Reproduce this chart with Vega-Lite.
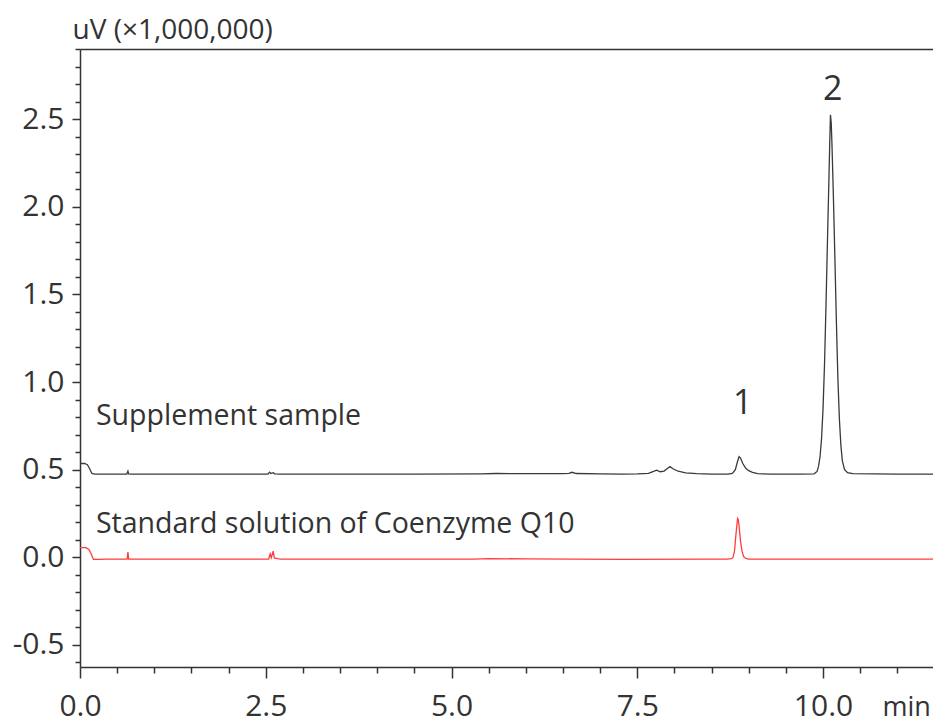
{
  "$schema": "https://vega.github.io/schema/vega-lite/v6.json",
  "width": 853,
  "height": 618,
  "autosize": {"type": "none"},
  "padding": {"left": 80, "top": 49, "right": 0, "bottom": 53},
  "background": "white",
  "config": {
    "view": {"stroke": null},
    "font": "Open Sans",
    "axis": {"domainColor": "#333333", "tickColor": "#333333", "labelColor": "#333333", "titleColor": "#333333", "labelFont": "Open Sans", "titleFont": "Open Sans", "titleFontWeight": "normal", "grid": false, "domainWidth": 1.5, "tickWidth": 1.5, "labelOverlap": false, "labelFlush": false}
  },
  "datasets": {
    "traces": [
      {"t": 0, "v": 0.535, "s": "A"}, {"t": 0.06, "v": 0.535, "s": "A"}, {"t": 0.1, "v": 0.528, "s": "A"}, {"t": 0.13, "v": 0.505, "s": "A"}, {"t": 0.16, "v": 0.478, "s": "A"}, {"t": 0.2, "v": 0.475, "s": "A"},
      {"t": 0.63, "v": 0.475, "s": "A"}, {"t": 0.645, "v": 0.492, "s": "A"}, {"t": 0.655, "v": 0.476, "s": "A"}, {"t": 0.7, "v": 0.475, "s": "A"}, {"t": 1.5, "v": 0.475, "s": "A"},
      {"t": 2.53, "v": 0.475, "s": "A"}, {"t": 2.55, "v": 0.486, "s": "A"}, {"t": 2.57, "v": 0.478, "s": "A"}, {"t": 2.6, "v": 0.483, "s": "A"}, {"t": 2.62, "v": 0.476, "s": "A"}, {"t": 2.7, "v": 0.475, "s": "A"},
      {"t": 3.5, "v": 0.475, "s": "A"}, {"t": 4.5, "v": 0.475, "s": "A"}, {"t": 5.4, "v": 0.476, "s": "A"}, {"t": 5.6, "v": 0.478, "s": "A"}, {"t": 6.0, "v": 0.477, "s": "A"}, {"t": 6.5, "v": 0.477, "s": "A"},
      {"t": 6.58, "v": 0.479, "s": "A"}, {"t": 6.62, "v": 0.485, "s": "A"}, {"t": 6.68, "v": 0.478, "s": "A"}, {"t": 7.0, "v": 0.476, "s": "A"}, {"t": 7.3, "v": 0.475, "s": "A"},
      {"t": 7.5, "v": 0.476, "s": "A"}, {"t": 7.65, "v": 0.479, "s": "A"}, {"t": 7.72, "v": 0.49, "s": "A"}, {"t": 7.76, "v": 0.497, "s": "A"}, {"t": 7.81, "v": 0.488, "s": "A"}, {"t": 7.86, "v": 0.492, "s": "A"},
      {"t": 7.91, "v": 0.508, "s": "A"}, {"t": 7.94, "v": 0.517, "s": "A"}, {"t": 7.98, "v": 0.505, "s": "A"}, {"t": 8.05, "v": 0.491, "s": "A"}, {"t": 8.15, "v": 0.482, "s": "A"}, {"t": 8.3, "v": 0.477, "s": "A"},
      {"t": 8.5, "v": 0.474, "s": "A"}, {"t": 8.72, "v": 0.474, "s": "A"}, {"t": 8.78, "v": 0.479, "s": "A"}, {"t": 8.82, "v": 0.5, "s": "A"}, {"t": 8.85, "v": 0.548, "s": "A"}, {"t": 8.87, "v": 0.574, "s": "A"},
      {"t": 8.89, "v": 0.566, "s": "A"}, {"t": 8.92, "v": 0.535, "s": "A"}, {"t": 8.96, "v": 0.508, "s": "A"}, {"t": 9.0, "v": 0.494, "s": "A"}, {"t": 9.05, "v": 0.484, "s": "A"}, {"t": 9.12, "v": 0.477, "s": "A"},
      {"t": 9.3, "v": 0.474, "s": "A"}, {"t": 9.7, "v": 0.474, "s": "A"}, {"t": 9.88, "v": 0.476, "s": "A"}, {"t": 9.92, "v": 0.49, "s": "A"}, {"t": 9.94, "v": 0.52, "s": "A"}, {"t": 9.96, "v": 0.575, "s": "A"},
      {"t": 9.98, "v": 0.676, "s": "A"}, {"t": 10.0, "v": 0.848, "s": "A"}, {"t": 10.02, "v": 1.1, "s": "A"}, {"t": 10.04, "v": 1.44, "s": "A"}, {"t": 10.06, "v": 1.81, "s": "A"}, {"t": 10.08, "v": 2.17, "s": "A"},
      {"t": 10.09, "v": 2.36, "s": "A"}, {"t": 10.1, "v": 2.525, "s": "A"}, {"t": 10.11, "v": 2.48, "s": "A"}, {"t": 10.12, "v": 2.36, "s": "A"}, {"t": 10.14, "v": 2.05, "s": "A"}, {"t": 10.16, "v": 1.7, "s": "A"},
      {"t": 10.18, "v": 1.34, "s": "A"}, {"t": 10.2, "v": 1.02, "s": "A"}, {"t": 10.22, "v": 0.79, "s": "A"}, {"t": 10.24, "v": 0.64, "s": "A"}, {"t": 10.26, "v": 0.55, "s": "A"}, {"t": 10.29, "v": 0.5, "s": "A"},
      {"t": 10.33, "v": 0.483, "s": "A"}, {"t": 10.4, "v": 0.477, "s": "A"}, {"t": 11.0, "v": 0.474, "s": "A"}, {"t": 11.5, "v": 0.474, "s": "A"},

      {"t": 0, "v": 0.055, "s": "B"}, {"t": 0.08, "v": 0.055, "s": "B"}, {"t": 0.12, "v": 0.045, "s": "B"}, {"t": 0.15, "v": 0.02, "s": "B"}, {"t": 0.18, "v": -0.012, "s": "B"}, {"t": 0.25, "v": -0.012, "s": "B"},
      {"t": 0.35, "v": -0.01, "s": "B"}, {"t": 0.635, "v": -0.01, "s": "B"}, {"t": 0.645, "v": 0.03, "s": "B"}, {"t": 0.655, "v": -0.01, "s": "B"}, {"t": 1.5, "v": -0.01, "s": "B"},
      {"t": 2.54, "v": -0.01, "s": "B"}, {"t": 2.56, "v": 0.02, "s": "B"}, {"t": 2.575, "v": -0.002, "s": "B"}, {"t": 2.6, "v": 0.035, "s": "B"}, {"t": 2.615, "v": -0.004, "s": "B"}, {"t": 2.66, "v": -0.008, "s": "B"},
      {"t": 2.7, "v": -0.01, "s": "B"}, {"t": 5.3, "v": -0.01, "s": "B"}, {"t": 5.5, "v": -0.008, "s": "B"}, {"t": 6.0, "v": -0.009, "s": "B"}, {"t": 7.3, "v": -0.012, "s": "B"}, {"t": 8.5, "v": -0.011, "s": "B"},
      {"t": 8.7, "v": -0.01, "s": "B"}, {"t": 8.77, "v": -0.008, "s": "B"}, {"t": 8.79, "v": 0.0, "s": "B"}, {"t": 8.81, "v": 0.04, "s": "B"}, {"t": 8.83, "v": 0.14, "s": "B"}, {"t": 8.85, "v": 0.222, "s": "B"},
      {"t": 8.86, "v": 0.215, "s": "B"}, {"t": 8.87, "v": 0.18, "s": "B"}, {"t": 8.89, "v": 0.09, "s": "B"}, {"t": 8.91, "v": 0.035, "s": "B"}, {"t": 8.93, "v": 0.005, "s": "B"}, {"t": 8.96, "v": -0.007, "s": "B"},
      {"t": 9.0, "v": -0.01, "s": "B"}, {"t": 11.5, "v": -0.01, "s": "B"}
    ],
    "notes": [
      {"t": 0.215, "v": 0.806, "label": "Supplement sample"},
      {"t": 0.215, "v": 0.19, "label": "Standard solution of Coenzyme Q10"}
    ],
    "peaks": [
      {"t": 8.92, "v": 0.875, "label": "1"},
      {"t": 10.13, "v": 2.664, "label": "2"}
    ]
  },
  "layer": [
    {
      "data": {"name": "traces"},
      "mark": {"type": "line", "strokeWidth": 1.3, "interpolate": "linear"},
      "encoding": {
        "x": {"field": "t", "type": "quantitative", "scale": {"domain": [0, 11.48], "nice": false, "zero": false},
          "axis": {"orient": "bottom", "title": "min", "titleFontSize": 27, "titleX": 802, "titleY": 48, "titleAlign": "left", "titleBaseline": "alphabetic", "titleAnchor": null,
            "values": [0,0.5,1,1.5,2,2.5,3,3.5,4,4.5,5,5.5,6,6.5,7,7.5,8,8.5,9,9.5,10,10.5,11],
            "labelExpr": "abs(datum.value/2.5 - round(datum.value/2.5)) < 0.001 ? format(datum.value, '.1f') : ''",
            "tickSize": {"condition": {"test": "abs(datum.value/2.5 - round(datum.value/2.5)) < 0.001", "value": 11}, "value": 6},
            "labelFontSize": 30, "labelBaseline": "alphabetic", "labelPadding": 37}},
        "y": {"field": "v", "type": "quantitative", "scale": {"domain": [-0.626, 2.9], "nice": false, "zero": false},
          "axis": {"orient": "left", "title": "uV (×1,000,000)", "titleFontSize": 28, "titleAngle": 0, "titleX": -8, "titleY": -11, "titleAlign": "left", "titleBaseline": "alphabetic", "titleAnchor": null,
            "values": [-0.6,-0.5,-0.4,-0.3,-0.2,-0.1,0,0.1,0.2,0.3,0.4,0.5,0.6,0.7,0.8,0.9,1,1.1,1.2,1.3,1.4,1.5,1.6,1.7,1.8,1.9,2,2.1,2.2,2.3,2.4,2.5,2.6,2.7,2.8,2.9],
            "labelExpr": "abs(datum.value*2 - round(datum.value*2)) < 0.001 ? replace(format(datum.value, '.1f'), '\u2212', '-') : ''",
            "tickSize": {"condition": {"test": "abs(datum.value*2 - round(datum.value*2)) < 0.001", "value": 8}, "value": 5},
            "labelFontSize": 30, "labelPadding": 8}},
        "color": {"field": "s", "type": "nominal", "scale": {"domain": ["A", "B"], "range": ["#3a3a3a", "#ff3b3b"]}, "legend": null}
      }
    },
    {
      "data": {"name": "notes"},
      "mark": {"type": "text", "align": "left", "baseline": "middle", "fontSize": 28.5, "font": "Open Sans", "color": "#333333"},
      "encoding": {
        "x": {"field": "t", "type": "quantitative", "axis": {"orient": "top", "labels": false, "ticks": false, "title": null, "domain": true}},
        "y": {"field": "v", "type": "quantitative", "axis": null},
        "text": {"field": "label"}
      }
    },
    {
      "data": {"name": "peaks"},
      "mark": {"type": "text", "align": "center", "baseline": "middle", "fontSize": 34, "font": "Open Sans", "color": "#333333"},
      "encoding": {
        "x": {"field": "t", "type": "quantitative", "axis": null},
        "y": {"field": "v", "type": "quantitative", "axis": null},
        "text": {"field": "label"}
      }
    }
  ],
  "resolve": {"axis": {"x": "independent", "y": "independent"}}
}
